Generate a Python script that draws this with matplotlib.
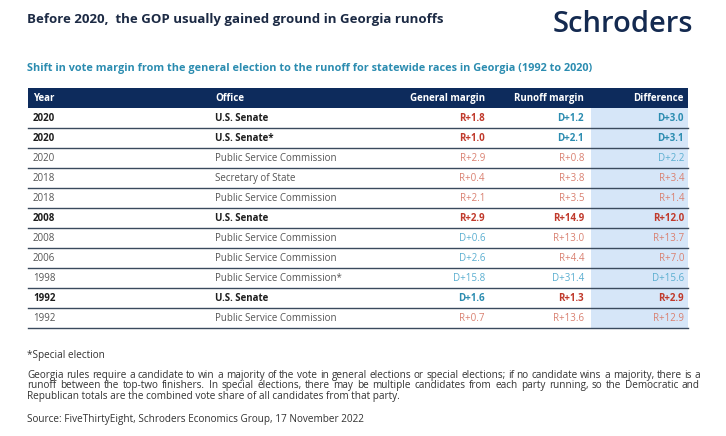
import matplotlib.pyplot as plt
from matplotlib.patches import Rectangle

# data
years = ['2020', '2020', '2020', '2018', '2018', '2008', '2008', '2006', '1998', '1992', '1992']
offices = ['U.S. Senate', 'U.S. Senate*', 'Public Service Commission', 'Secretary of State',
           'Public Service Commission', 'U.S. Senate', 'Public Service Commission',
           'Public Service Commission', 'Public Service Commission*', 'U.S. Senate',
           'Public Service Commission']
general = ['R+1.8', 'R+1.0', 'R+2.9', 'R+0.4', 'R+2.1', 'R+2.9', 'D+0.6', 'D+2.6', 'D+15.8', 'D+1.6', 'R+0.7']
runoff = ['D+1.2', 'D+2.1', 'R+0.8', 'R+3.8', 'R+3.5', 'R+14.9', 'R+13.0', 'R+4.4', 'D+31.4', 'R+1.3', 'R+13.6']
difference = ['D+3.0', 'D+3.1', 'D+2.2', 'R+3.4', 'R+1.4', 'R+12.0', 'R+13.7', 'R+7.0', 'D+15.6', 'R+2.9', 'R+12.9']
bold_rows = [True, True, False, False, False, True, False, False, False, True, False]
headers = ['Year', 'Office', 'General margin', 'Runoff margin', 'Difference']

title = 'Before 2020,  the GOP usually gained ground in Georgia runoffs'
subtitle = 'Shift in vote margin from the general election to the runoff for statewide races in Georgia (1992 to 2020)'
note = '*Special election'
para = ['Georgia rules require a candidate to win a majority of the vote in general elections or special elections; if no candidate wins a majority, there is a',
        'runoff between the top-two finishers. In special elections, there may be multiple candidates from each party running, so the Democratic and',
        'Republican totals are the combined vote share of all candidates from that party.']
source = 'Source: FiveThirtyEight, Schroders Economics Group, 17 November 2022'

navy = '#0d2b5c'
teal = '#2b8cb0'
red_b = '#c0392b'
red_l = '#d98070'
teal_l = '#5aaed0'

fig = plt.figure(figsize=(7.26, 4.36), dpi=100)
ax = fig.add_axes([0, 0, 1, 1])
ax.set_xlim(0, 726)
ax.set_ylim(436, 0)
ax.axis('off')

font = 'Open Sans'

ax.text(27, 19, title, fontsize=9.5, fontweight='bold', color='#1c2a44', va='center', family=font)
ax.text(693, 25, 'Schroders', fontsize=21, fontweight='semibold', color='#142a50', va='center', ha='right', family='Open Sans')
ax.text(27, 68, subtitle, fontsize=7.8, fontweight='bold', color=teal, va='center', family=font)

x0, x1 = 28, 688
top = 88
rh = 20

# header bar
ax.add_patch(Rectangle((x0, top), x1 - x0, rh, color=navy, lw=0))
# difference column shading
n = len(years)
ax.add_patch(Rectangle((591, top + rh), x1 - 591, rh * n, color='#d6e6f8', lw=0))

hx = [33, 215, 485, 584, 684]
ha = ['left', 'left', 'right', 'right', 'right']
for h, x, a in zip(headers, hx, ha):
    ax.text(x, top + rh / 2, h, color='white', fontsize=7, fontweight='bold', ha=a, va='center', family=font)


def col(v, b):
    if v.startswith('R'):
        return red_b if b else red_l
    return teal if b else teal_l


for i in range(n):
    y = top + rh * (i + 1.5)
    b = bold_rows[i]
    w = 'bold' if b else 'normal'
    tc = '#1e1e1e' if b else '#555555'
    ax.text(hx[0], y, years[i], fontsize=7, fontweight=w, color=tc, va='center', family=font)
    ax.text(hx[1], y, offices[i], fontsize=7, fontweight=w, color=tc, va='center', family=font)
    for j, v in enumerate([general[i], runoff[i], difference[i]]):
        ax.text(hx[j + 2], y, v, fontsize=7, fontweight=w, color=col(v, b), ha='right', va='center', family=font)
    ax.plot([x0, x1], [top + rh * (i + 2)] * 2, color='#3a4a5e', lw=1.0)

# footnotes
fs = 7.2
ax.text(27, 355, note, fontsize=fs, color='#333333', va='center', family=font)

renderer = fig.canvas.get_renderer()
left, right = 27, 700
for k, line in enumerate(para):
    y = 375 + 10.5 * k
    words = line.split(' ')
    if k == len(para) - 1:
        ax.text(left, y, line, fontsize=fs, color='#333333', va='center', family=font)
        continue
    arts = [ax.text(0, y, w_, fontsize=fs, color='#333333', va='center', family=font) for w_ in words]
    widths = [a.get_window_extent(renderer).width for a in arts]
    gap = (right - left - sum(widths)) / (len(words) - 1)
    x = left
    for a, wd in zip(arts, widths):
        a.set_x(x)
        x += wd + gap

ax.text(27, 419, source, fontsize=fs, color='#333333', va='center', family=font)

fig.savefig('out.png', dpi=100, facecolor='white')
